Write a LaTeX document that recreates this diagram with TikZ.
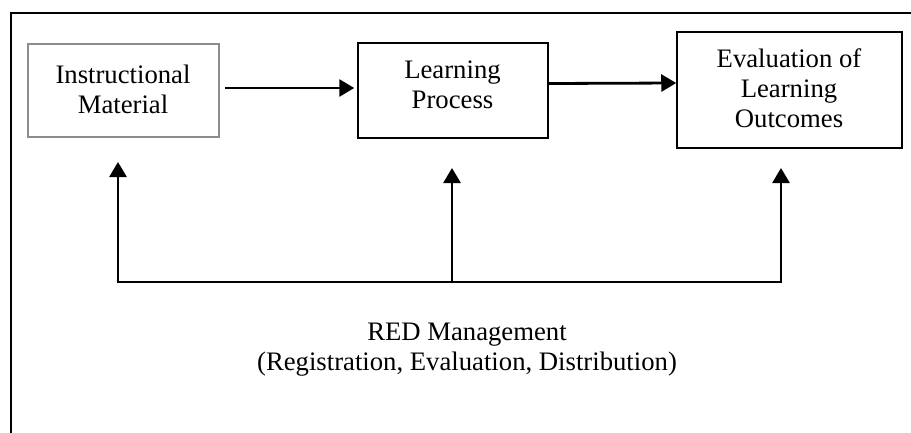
\documentclass[tikz,border=0pt]{standalone}
\usepackage{fontspec}
\setmainfont{Liberation Serif}
\usetikzlibrary{arrows.meta}
\begin{document}
\begin{tikzpicture}[x=1pt,y=-1pt,
  boxnode/.style={draw=black,line width=1.5pt,inner sep=0pt},
  txt/.style={font=\fontsize{26.7}{30}\selectfont,align=center,inner sep=0pt},
  arr/.style={line width=2.8pt,-{Triangle[length=15pt,width=17pt]}},
  plain/.style={line width=2.8pt}]
\useasboundingbox (0,0) rectangle (911,432);
% outer frame (cut at right and bottom)
\draw[line width=2pt] (11,440) -- (11,13) -- (920,13);
% boxes
\node[boxnode,draw=black!45,minimum width=191pt,minimum height=93pt] (b1) at (123.5,90.5) {};
\node[boxnode,minimum width=190pt,minimum height=95pt] (b2) at (453,90.5) {};
\node[boxnode,minimum width=225pt,minimum height=116pt] (b3) at (789.5,90) {};
\node[txt] (t1) at (123,89) {Instructional\\Material};
\node[txt] (t2) at (452.5,84.7) {Learning\\Process};
\node[txt] (t3) at (789,88.5) {Evaluation of\\Learning\\Outcomes};
% horizontal arrows
\draw[arr] ([xshift=5pt,yshift=2.5pt]b1.east) -- ([xshift=-3pt,yshift=2.5pt]b2.west);
\draw[arr] ([yshift=7pt]b2.east) -- ([yshift=7pt]b3.west);
% feedback lines
\coordinate (L) at (118,282);
\coordinate (M) at (452,282);
\coordinate (R) at (781,282);
\coordinate (Lt) at (118,162);
\coordinate (Mt) at (452,168);
\coordinate (Rt) at (781,168);
\draw[plain] ([xshift=-1.4pt]L) -- ([xshift=1.4pt]R);
\draw[arr] ([yshift=-1.4pt]L) -- (Lt);
\draw[arr] ([yshift=-1.4pt]M) -- (Mt);
\draw[arr] ([yshift=-1.4pt]R) -- (Rt);
% bottom text
\node[txt] (red) at (467,350) {RED Management\\(Registration, Evaluation, Distribution)};
\end{tikzpicture}
\end{document}
